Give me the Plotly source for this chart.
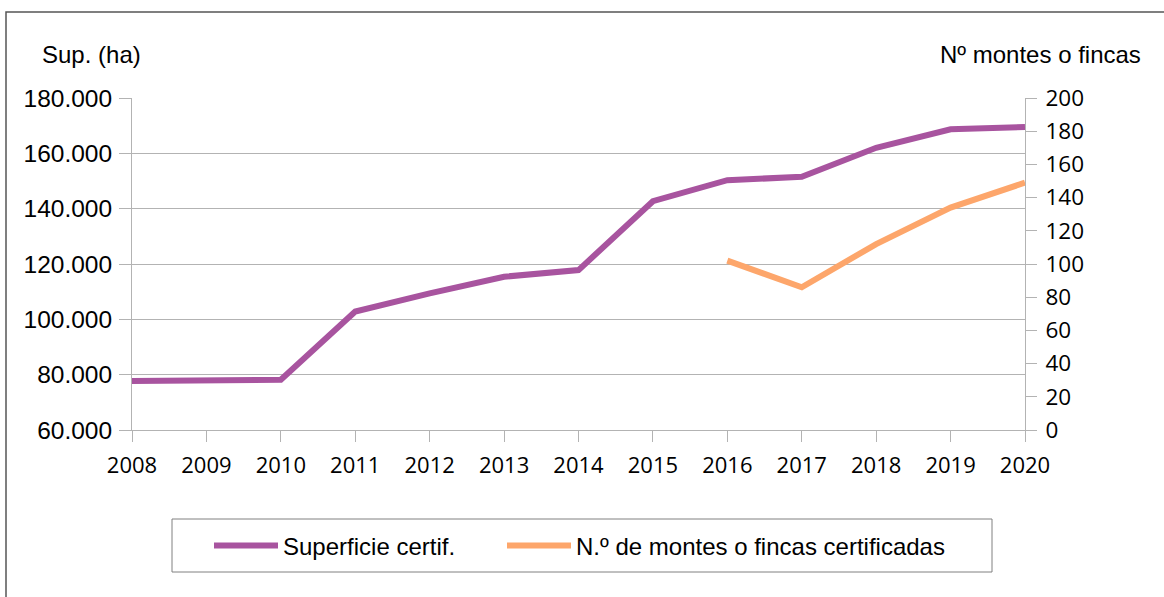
import plotly.graph_objects as go

years = [2008, 2009, 2010, 2011, 2012, 2013, 2014, 2015, 2016, 2017, 2018, 2019, 2020]
superficie = [77700, 77700, 78200, 102800, 109400, 115400, 117800, 142700,
              150300, 151500, 162000, 168700, 169500]
n_fincas = [None, None, None, None, None, None, None, None, 102, 86, 112, 134, 149]

left_ticks = [60000, 80000, 100000, 120000, 140000, 160000, 180000]
right_ticks = [0, 20, 40, 60, 80, 100, 120, 140, 160, 180, 200]

PURPLE = "#a8549f"
ORANGE = "#fda66b"
GRID = "#b3b3b3"

# plot area in pixels: x 132..1025, y 98..430
PX_L, PX_R, PX_T, PX_B = 132, 1025, 98, 430
def px_x(px):
    return (px - PX_L) / (PX_R - PX_L)
def px_y(py):
    return (PX_B - py) / (PX_B - PX_T)

fig = go.Figure()
fig.add_trace(go.Scatter(x=years, y=superficie, name="Superficie certif.",
                         mode="lines", line=dict(color=PURPLE, width=6),
                         yaxis="y", legend="legend"))
fig.add_trace(go.Scatter(x=years, y=n_fincas, name="N.º de montes o fincas certificadas",
                         mode="lines", line=dict(color=ORANGE, width=6),
                         yaxis="y2", connectgaps=False, legend="legend2"))

legend_font = dict(family="Liberation Sans, Arial, sans-serif", size=24, color="#000")
legend_y = px_y(546)

fig.update_layout(
    width=1164, height=597,
    margin=dict(l=PX_L, r=1164 - PX_R, t=PX_T, b=597 - PX_B, autoexpand=False),
    paper_bgcolor="white", plot_bgcolor="white",
    separators=",.",
    font=dict(family="Liberation Sans, Arial, sans-serif", size=24, color="#000"),
    xaxis=dict(range=[2008, 2020], tickvals=years, ticktext=[str(y) for y in years],
               showgrid=False, showline=True, linecolor=GRID, linewidth=1,
               ticks="outside", ticklen=11, tickcolor=GRID, tickwidth=1,
               ticklabelstandoff=5,
               tickfont=dict(family="Open Sans, sans-serif", size=22, color="#000"),
               zeroline=False, fixedrange=True),
    yaxis=dict(range=[60000, 180000], tickvals=left_ticks, tickformat=",d",
               showgrid=True, gridcolor=GRID, gridwidth=1,
               showline=True, linecolor=GRID, linewidth=1,
               ticks="outside", ticklen=12, tickcolor=GRID, tickwidth=1,
               ticklabelstandoff=2,
               tickfont=dict(family="Liberation Sans, Arial, sans-serif", size=24.5, color="#000"),
               zeroline=False, fixedrange=True),
    yaxis2=dict(range=[0, 200], tickvals=right_ticks, overlaying="y", side="right",
                showgrid=False, showline=True, linecolor=GRID, linewidth=1,
                ticks="outside", ticklen=11, tickcolor=GRID, tickwidth=1,
                ticklabelstandoff=4,
                tickfont=dict(family="Open Sans, sans-serif", size=22.5, color="#000"),
                zeroline=False, fixedrange=True),
    legend=dict(orientation="h", x=px_x(209), y=legend_y, xanchor="left", yanchor="middle",
                borderwidth=0, bgcolor="rgba(0,0,0,0)", font=legend_font, itemwidth=64),
    legend2=dict(orientation="h", x=px_x(502), y=legend_y, xanchor="left", yanchor="middle",
                 borderwidth=0, bgcolor="rgba(0,0,0,0)", font=legend_font, itemwidth=64),
    showlegend=True,
)

fig.add_annotation(text="Sup. (ha)", xref="paper", yref="paper", x=px_x(40), y=px_y(55),
                   xanchor="left", yanchor="middle", showarrow=False,
                   font=dict(family="Liberation Sans, Arial, sans-serif", size=24, color="#000"))
fig.add_annotation(text="Nº montes o fincas", xref="paper", yref="paper", x=px_x(1143), y=px_y(55),
                   xanchor="right", yanchor="middle", showarrow=False,
                   font=dict(family="Liberation Sans, Arial, sans-serif", size=24, color="#000"))

# legend box
fig.add_shape(type="rect", xref="paper", yref="paper",
              x0=px_x(172), x1=px_x(992), y0=px_y(572), y1=px_y(519),
              line=dict(color="#808080", width=1), fillcolor="rgba(0,0,0,0)")

# outer chart frame
fig.add_shape(type="rect", xref="paper", yref="paper",
              x0=px_x(6), x1=px_x(1172), y0=px_y(605), y1=px_y(12),
              line=dict(color="#555555", width=1.5), fillcolor="rgba(0,0,0,0)", layer="below")

fig.write_html("out.html", config={"displayModeBar": False},
               post_script="document.body.style.margin='0';document.body.style.overflow='hidden';")
